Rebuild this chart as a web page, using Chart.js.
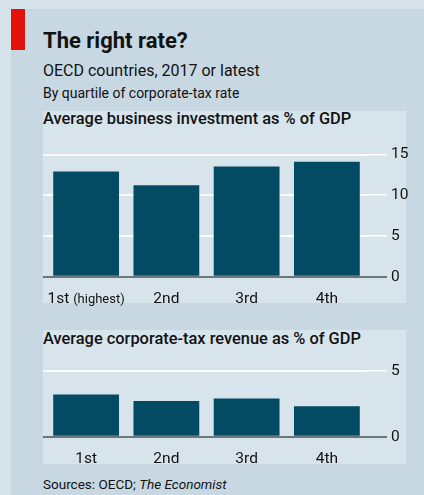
<!DOCTYPE html>
<html>
<head>
<meta charset="utf-8">
<script src="https://cdn.jsdelivr.net/npm/chart.js@4"></script>
<style>
    body { margin: 0; width: 424px; height: 495px; background: #d6e3ea; position: relative; overflow: hidden;
           font-family: Roboto, "Noto Sans", sans-serif; color: #121212; }
    .card { position: absolute; left: 11px; top: 9px; width: 413px; height: 486px; background: #c7d8e2; }
    .red { position: absolute; left: 11px; top: 9px; width: 14px; height: 41px; background: #e3120b; }
    .txt { position: absolute; left: 43px; white-space: nowrap; }
    .panel { position: absolute; left: 43px; width: 363px; background: #d8e4ec; }
    canvas { position: absolute; left: 43px; }
</style>
</head>
<body>
<div class="card"></div>
<div class="red"></div>
<div class="txt" style="top:30px; font-size:22px; line-height:22px; font-weight:700;">The right rate?</div>
<div class="txt" style="top:63px; font-size:16px; line-height:16px;">OECD countries, 2017 or latest</div>
<div class="txt" style="top:85.5px; font-size:14px; line-height:14px;">By quartile of corporate-tax rate</div>

<div class="panel" style="top:111px; height:192px;"></div>
<div class="txt" style="top:111px; font-size:16.4px; line-height:16.4px; font-weight:500;">Average business investment as % of GDP</div>
<canvas id="investChart" width="381" height="166" style="top:141px;"></canvas>

<div class="panel" style="top:330px; height:134px;"></div>
<div class="txt" style="top:330.5px; font-size:16.4px; line-height:16.4px; font-weight:500;">Average corporate-tax revenue as % of GDP</div>
<canvas id="taxChart" width="381" height="112" style="top:355px;"></canvas>

<div class="txt" style="top:478px; font-size:13.5px; line-height:13.5px;">Sources: OECD; <i>The Economist</i></div>

<script>
// Data
const quartiles = ['1st', '2nd', '3rd', '4th'];
const investment = [12.9, 11.2, 13.5, 14.1];
const taxRevenue = [3.2, 2.7, 2.9, 2.3];
const investTicks = [0, 5, 10, 15];
const taxTicks = [0, 5];

const barColor = '#024b62';
const fontFamily = 'Roboto, "Noto Sans", sans-serif';

// White gridlines, grey zero line
function gridColor(ctx) {
    return ctx.tick && ctx.tick.value === 0 ? '#6c767b' : '#ffffff';
}
function gridWidth(ctx) {
    return ctx.tick && ctx.tick.value === 0 ? 2 : 1.5;
}

// Category labels drawn under the bars, first one can carry a small note
const quartileLabels = {
    id: 'quartileLabels',
    afterDraw(chart, args, opts) {
        const ctx = chart.ctx;
        const xScale = chart.scales.x;
        const y = chart.chartArea.bottom + 26.5;
        ctx.save();
        ctx.fillStyle = '#121212';
        ctx.textBaseline = 'alphabetic';
        quartiles.forEach(function(q, i) {
            const x = xScale.getPixelForValue(i);
            const big = '15.5px ' + fontFamily;
            const small = '13px ' + fontFamily;
            if (i === 0 && opts.note) {
                ctx.font = big;
                const w1 = ctx.measureText(q + ' ').width;
                ctx.font = small;
                const w2 = ctx.measureText(opts.note).width;
                let left = x - (w1 + w2) / 2;
                ctx.textAlign = 'left';
                ctx.font = big;
                ctx.fillText(q + ' ', left, y);
                ctx.font = small;
                ctx.fillText(opts.note, left + w1, y);
            } else {
                ctx.font = big;
                ctx.textAlign = 'center';
                ctx.fillText(q, x, y);
            }
        });
        ctx.restore();
    }
};

function makeChart(id, values, ticks, padTop, note) {
    const maxVal = ticks[ticks.length - 1];
    const tickStep = ticks[1] - ticks[0];
    return new Chart(document.getElementById(id).getContext('2d'), {
        type: 'bar',
        data: {
            labels: quartiles,
            datasets: [{
                data: values,
                backgroundColor: barColor,
                barPercentage: 0.82,
                categoryPercentage: 1,
                yAxisID: 'y'
            }]
        },
        options: {
            responsive: false,
            animation: false,
            devicePixelRatio: 1,
            layout: { padding: { top: padTop, bottom: 30.3, left: 0, right: 0 } },
            plugins: {
                legend: { display: false },
                tooltip: { enabled: false },
                quartileLabels: { note: note }
            },
            scales: {
                x: { display: false },
                yl: {
                    position: 'left',
                    min: 0, max: maxVal,
                    ticks: { display: false, stepSize: tickStep },
                    grid: { color: gridColor, lineWidth: gridWidth, tickLength: 3 },
                    border: { display: false }
                },
                y: {
                    position: 'right',
                    min: 0, max: maxVal,
                    afterFit: function(scale) { scale.width = 57; },
                    ticks: {
                        stepSize: tickStep,
                        padding: 4,
                        color: '#121212',
                        font: { family: fontFamily, size: 15.5 }
                    },
                    grid: { color: gridColor, lineWidth: gridWidth, tickLength: 20 },
                    border: { display: false }
                }
            }
        },
        plugins: [quartileLabels]
    });
}

const investChart = makeChart('investChart', investment, investTicks, 10.7, '(highest)');
const taxChart = makeChart('taxChart', taxRevenue, taxTicks, 15.7, null);
</script>
</body>
</html>
